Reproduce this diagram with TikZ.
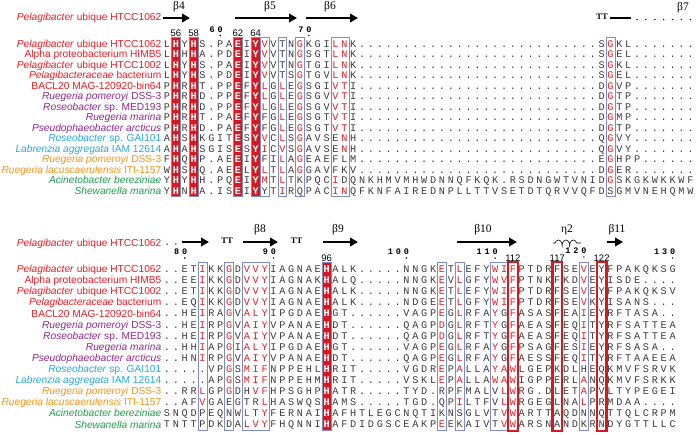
\documentclass[tikz,border=0pt]{standalone}
\usepackage{fontspec}
\setmainfont{Liberation Sans}
\newfontfamily\monof{Liberation Mono}
\newfontfamily\serf{Liberation Serif}
\usetikzlibrary{arrows.meta,decorations.pathmorphing}
\definecolor{esred}{RGB}{228,30,38}
\definecolor{esfill}{RGB}{214,24,34}
\definecolor{esbox}{RGB}{125,140,200}
\definecolor{hlred}{RGB}{218,22,30}
\definecolor{lred}{RGB}{237,28,36}
\definecolor{lpurple}{RGB}{146,39,143}
\definecolor{lcyan}{RGB}{39,170,225}
\definecolor{lorange}{RGB}{247,148,29}
\definecolor{lgreen}{RGB}{30,160,75}
\definecolor{seqk}{RGB}{60,60,60}
\newcommand\seqfont{\monof\fontsize{10.2}{10.2}\selectfont}
\newcommand\seqfontb{\monof\bfseries\fontsize{10.2}{10.2}\selectfont}
\newcommand\labfont{\fontsize{10.2}{10.2}\selectfont}
\newcommand\snumfont{\fontsize{9.5}{9.5}\selectfont}
\newcommand\mnumfont{\monof\bfseries\fontsize{8.5}{8.5}\selectfont}
\newcommand\ssfont{\serf\fontsize{11.5}{11.5}\selectfont}
\newcommand\ttfont{\serf\bfseries\fontsize{8.5}{8.5}\selectfont}
\makeatletter
\newcount\sqcol
\def\sqpitch{8.87}
\newcommand\sqnine{.........}
\newcommand\sqrow[3]{\def\sq@y{#1}\def\sq@fill{#2}\sqcol=0 \edef\sq@str{#3}\expandafter\sq@next\sq@str\relax}
\def\sq@next#1{\ifx#1\relax\else\sq@put#1\advance\sqcol by 1 \expandafter\sq@next\fi}
\def\sq@put#1{%
  \pgfmathsetmacro\sq@x{167+\sqpitch*\the\sqcol}%
  \edef\sq@tmp{\noexpand\in@{,\the\sqcol,}{\sq@fill}}\sq@tmp
  \ifin@
    \node[seqw] at (\sq@x,\sq@y+3.5) {\uppercase{#1}};%
  \else
    \ifnum`#1>90
      \node[seqr] at (\sq@x,\sq@y+3.5) {\uppercase{#1}};%
    \else
      \node[seqb] at (\sq@x,\sq@y+3.5) {#1};%
    \fi
  \fi}
\newcommand\colbox[5][boxst]{\pgfmathsetmacro\cb@a{167+\sqpitch*#2-4.43}\pgfmathsetmacro\cb@b{167+\sqpitch*#3+4.43}\draw[#1] (\cb@a,#4) rectangle (\cb@b,#5);}
\newcommand\hlbox[3]{\pgfmathsetmacro\cb@a{167+\sqpitch*#1-4.8}\pgfmathsetmacro\cb@b{167+\sqpitch*#1+4.8}\draw[hl] (\cb@a,#2) rectangle (\cb@b,#3);}
\newcommand\snum[3]{\pgfmathsetmacro\cb@a{167+\sqpitch*#1}\node[snum] at (\cb@a,#2+3.4) {#3};}
\newcommand\mnumii[4]{\pgfmathsetmacro\cb@a{167+\sqpitch*#1}\node[mnum] at (\cb@a-8,#2) {#3};\node[mnum] at (\cb@a,#2) {#4};\fill (\cb@a,#2+6) circle (0.8);}
\newcommand\mnumiii[5]{\pgfmathsetmacro\cb@a{167+\sqpitch*#1}\node[mnum] at (\cb@a-16,#2) {#3};\node[mnum] at (\cb@a-8,#2) {#4};\node[mnum] at (\cb@a,#2) {#5};\fill (\cb@a,#2+6) circle (0.8);}
\newcommand\ssdot[2]{\pgfmathsetmacro\cb@a{167+\sqpitch*#1}\fill (\cb@a,#2) circle (0.75);}
\makeatother
\newcommand\labset[3]{%
 \node[lab,text=lred] (#3a) at (161.5,#1+3.6) {\textit{Pelagibacter} ubique HTCC1062};
 \node[lab,text=lred] (#3b) at (161.5,#1+#2+3.6) {Alpha proteobacterium HIMB5};
 \node[lab,text=lred] (#3c) at (161.5,#1+2*#2+3.6) {\textit{Pelagibacter} ubique HTCC1002};
 \node[lab,text=lred] (#3d) at (161.5,#1+3*#2+3.6) {\textit{Pelagibacteraceae} bacterium};
 \node[lab,text=lred] (#3e) at (161.5,#1+4*#2+3.6) {BACL20 MAG-120920-bin64};
 \node[lab,text=lpurple] (#3f) at (161.5,#1+5*#2+3.6) {\textit{Ruegeria pomeroyi} DSS-3};
 \node[lab,text=lpurple] (#3g) at (161.5,#1+6*#2+3.6) {\textit{Roseobacter} sp. MED193};
 \node[lab,text=lpurple] (#3h) at (161.5,#1+7*#2+3.6) {\textit{Ruegeria marina}};
 \node[lab,text=lpurple] (#3i) at (161.5,#1+8*#2+3.6) {\textit{Pseudophaeobacter arcticus}};
 \node[lab,text=lcyan] (#3j) at (161.5,#1+9*#2+3.6) {\textit{Roseobacter} sp. GAI101};
 \node[lab,text=lcyan] (#3k) at (161.5,#1+10*#2+3.6) {\textit{Labrenzia aggregata} IAM 12614};
 \node[lab,text=lorange] (#3l) at (161.5,#1+11*#2+3.6) {\textit{Ruegeria pomeroyi} DSS-3};
 \node[lab,text=lorange] (#3m) at (161.5,#1+12*#2+3.6) {\textit{Ruegeria lacuscaerulensis} ITI-1157};
 \node[lab,text=lgreen] (#3n) at (161.5,#1+13*#2+3.6) {\textit{Acinetobacter bereziniae}};
 \node[lab,text=lgreen] (#3o) at (161.5,#1+14*#2+3.6) {\textit{Shewanella marina}};
}
\begin{document}
\begin{tikzpicture}[x=1pt,y=-1pt,
  seqb/.style={font=\seqfont,text=seqk,inner sep=0pt,anchor=base},
  seqr/.style={font=\seqfont,text=esred,inner sep=0pt,anchor=base},
  seqw/.style={font=\seqfontb,text=white,inner sep=0pt,anchor=base},
  lab/.style={font=\labfont,inner sep=0pt,anchor=base east},
  snum/.style={font=\snumfont,inner sep=0pt,anchor=base},
  mnum/.style={font=\mnumfont,inner sep=0pt},
  boxst/.style={draw=esbox,line width=0.6pt},
  fillst/.style={fill=esfill,draw=esbox,line width=0.6pt},
  hl/.style={draw=hlred,line width=2.2pt},
  ssarr/.style={line width=2.3pt,-{Triangle[length=8pt,width=8.5pt]}},
  ssbar/.style={line width=2.3pt},
  sslab/.style={font=\ssfont,inner sep=0pt},
  ttst/.style={font=\ttfont,inner sep=0pt}]
\useasboundingbox (0,0) rectangle (696,434);
\fill[white] (0,0) rectangle (696,434);
% ---------- top block ----------
\foreach \c in {1,3,8,10} {\colbox[fillst]{\c}{\c}{37.5}{196.5}}
\colbox{11}{11}{37.5}{196.5}
\colbox{13}{13}{37.5}{196.5}
\colbox{15}{15}{37.5}{196.5}
\colbox{19}{20}{37.5}{196.5}
\colbox{50}{50}{37.5}{196.5}
\node[lab,text=lred] (sstop) at (161.5,17+3.6) {\textit{Pelagibacter} ubique HTCC1062};
\node[sslab] (b4) at (179,7) {β4};
\node[sslab] (b5) at (270,7) {β5};
\node[sslab] (b6) at (330,7) {β6};
\node[sslab] (b7) at (683,8) {β7};
\draw[ssarr] (163,18) -- (190,18);
\draw[ssarr] (235,18) -- (297,18);
\draw[ssarr] (306,18) -- (358,18);
\node[ttst] (tt1) at (602,17) {TT};
\draw[ssbar] (610,18) -- (631,18);
\foreach \c in {53,...,59} {\ssdot{\c}{19.5}}
\snum{1}{33.5}{56}
\snum{3}{33.5}{58}
\snum{8}{33.5}{62}
\snum{10}{33.5}{64}
\mnumii{6}{29.5}{6}{0}
\mnumii{16}{29.5}{7}{0}
\labset{43.5}{10.5}{t}
\sqrow{43.5}{,1,3,8,10,}{LHYHS.PAEIYvVTNgKGIlnK\sqnine\sqnine\sqnine SgKL.......}
\sqrow{54}{,1,3,8,10,}{LHHHA.PDEIYvVTNgSGTlnK\sqnine\sqnine\sqnine SgEL.......}
\sqrow{64.5}{,1,3,8,10,}{LHYHS.PAEIYvVTNgTGIlnK\sqnine\sqnine\sqnine SgKL.......}
\sqrow{75}{,1,3,8,10,}{LHYHS.PDEIYvVTSgTGVlnK\sqnine\sqnine\sqnine SgEL.......}
\sqrow{85.5}{,1,3,8,10,}{PHRHT.PPEFYlGlEgSGIvtI\sqnine\sqnine\sqnine DgVP.......}
\sqrow{96}{,1,3,8,10,}{PHRHD.PPEFYlGlEgSGVvtI\sqnine\sqnine\sqnine DgTP.......}
\sqrow{106.5}{,1,3,8,10,}{PHRHD.PPEFYlGlEgSGVvtI\sqnine\sqnine\sqnine DgTP.......}
\sqrow{117}{,1,3,8,10,}{PHRHT.PAEFYFGlEgSGTvtI\sqnine\sqnine\sqnine DgMP.......}
\sqrow{127.5}{,1,3,8,10,}{PHRHD.PAEFYFGlEgSGTvtI\sqnine\sqnine\sqnine DgTP.......}
\sqrow{138}{,1,3,8,10,}{AHSHKGITESYvClSgAVSEnH\sqnine\sqnine\sqnine QgVY.......}
\sqrow{148.5}{,1,3,8,10,}{AHAHSGISESYiCvSgAVSEnH\sqnine\sqnine\sqnine QgVY.......}
\sqrow{159}{,1,3,8,10,}{FHQHP.AEEIYFIlAgEAEFLM\sqnine\sqnine\sqnine EgHPP......}
\sqrow{169.5}{,1,3,8,10,}{WHSHQ.AEELYlTlAgGAVFKV\sqnine\sqnine\sqnine DgER.......}
\sqrow{180}{,1,3,8,10,}{YHYHH.PQEIYmTlTKPQCiDQNKHMVMHWDNNQFKQK.RSDNGWTVNIDgSKGKWKKWF}
\sqrow{190.5}{,1,3,8,10,}{YHNHA.ISEIYYTiRQPACinQFKNFAIREDNPLLTTVSETDTQRVVQFDSGMVNEHQMW}
% ---------- bottom block ----------
\colbox[fillst]{18}{18}{262.5}{430.5}
\colbox{4}{4}{262.5}{430.5}
\colbox{7}{7}{262.5}{430.5}
\colbox{9}{11}{262.5}{430.5}
\colbox{31}{31}{262.5}{430.5}
\colbox{33}{33}{262.5}{430.5}
\colbox{37}{39}{262.5}{430.5}
\colbox{47}{47}{262.5}{430.5}
\node[lab,text=lred] (ssbot) at (161.5,243+3.6) {\textit{Pelagibacter} ubique HTCC1062};
\ssdot{0}{244}
\ssdot{1}{244}
\draw[ssarr] (182,242) -- (209,242);
\node[ttst] (tt2) at (227,241) {TT};
\node[sslab] (b8) at (260,230) {β8};
\draw[ssarr] (243,242) -- (278,242);
\node[ttst] (tt3) at (296.5,241) {TT};
\node[sslab] (b9) at (338,230) {β9};
\draw[ssarr] (323,242) -- (358,242);
\node[sslab] (b10) at (483,230) {β10};
\draw[ssarr] (457,242) -- (517,242);
\node[sslab] (e2) at (567,230) {η2};
\draw[line width=0.6pt,decorate,decoration={coil,aspect=0.5,segment length=7.5pt,amplitude=3pt,pre length=2pt,post length=2pt}] (553,243) -- (581,243);
\node[sslab] (b11) at (617,230) {β11};
\draw[ssarr] (607,242) -- (623,242);
\mnumii{2}{252}{8}{0}
\mnumii{12}{252}{9}{0}
\mnumiii{27}{252}{1}{0}{0}
\mnumiii{37}{252}{1}{1}{0}
\mnumiii{47}{251}{1}{2}{0}
\mnumiii{57}{252}{1}{3}{0}
\snum{18}{258}{96}
\snum{39}{258}{112}
\snum{44}{258}{117}
\snum{49}{258}{122}
\labset{269}{11.1}{u}
\sqrow{269}{,18,}{..ETiKKgDvvyIAGNAEHALK.....NNGKeTlEFYwifPTDRFSEvEYFPAKQKSG}
\sqrow{280.1}{,18,}{..EEiKKgDvvyIAGNAKHALQ.....NNGKeVlGFYwvfPTNKFKDvEYISDE....}
\sqrow{291.2}{,18,}{..ETiKKgDvvyIAGNAEHALK.....NNGKeTlEFYwifPTDRFSEvEYFPAKQKSV}
\sqrow{302.3}{,18,}{..EQiKKgDvvyIAGNAEHALK.....NDGEeTlGFYwifPTDRFSEvKYISANS...}
\sqrow{313.4}{,18,}{..HEiRAgValyIPGDAEHGT......VAGPeGlRFAyGfASASFEAiEYRFTASA..}
\sqrow{324.5}{,18,}{..HEiRPgVaiyVPANAEHDT......QAGPdGlRFTyGfAEASFEQiTYRFSATTEA}
\sqrow{335.6}{,18,}{..HEiRPgVaiyVPANAEHDT......QAGPdGlRFTyGfAEASFEQiTYRFSATTEA}
\sqrow{346.7}{,18,}{..HHiAPgIalyIPGDAEHGT......VAGPeGlRFAyGfPSAGFESiEYRFSASA..}
\sqrow{357.8}{,18,}{..HNiRPgVaiyVPANAEHDT......QAGPeGlRFAyGfAESSFEQiTYRFTAAEEA}
\sqrow{368.9}{,18,}{.....VPgSmifNPPEHLHRIT.....VGDRePaLLAyawLGEPKDLHEQKMVFSRVK}
\sqrow{380}{,18,}{.....APgSmifNPPEHMHRIT.....VSKLePaLLAwawIGPPERLaNQKMVFSRKK}
\sqrow{391.1}{,18,}{..RRlGPgDHvfHPSGHPHATR.....TYD.RPFMALVlwRG.DLETaPVLTYPEGEI}
\sqrow{402.2}{,18,}{..AFvGAEGTRlHASWQSHAMS.....TGD.QPiLTFVlwRGEGLNAlPRMDAA....}
\sqrow{413.3}{,18,}{SNQDPEQNWlTyFERNAIHAFHTLEGCNQTIKNSGLVTvwARTTAQDNNQTTQLCRPM}
\sqrow{424.4}{,18,}{TNTTPDKDAlvyFHQNNIHAFDIDGSCEAKPeEKAIVTvwARSNANDKRNDYGTTLLC}
\hlbox{39}{262}{431}
\hlbox{44}{262}{431}
\hlbox{49}{262}{431}
\end{tikzpicture}
\end{document}
